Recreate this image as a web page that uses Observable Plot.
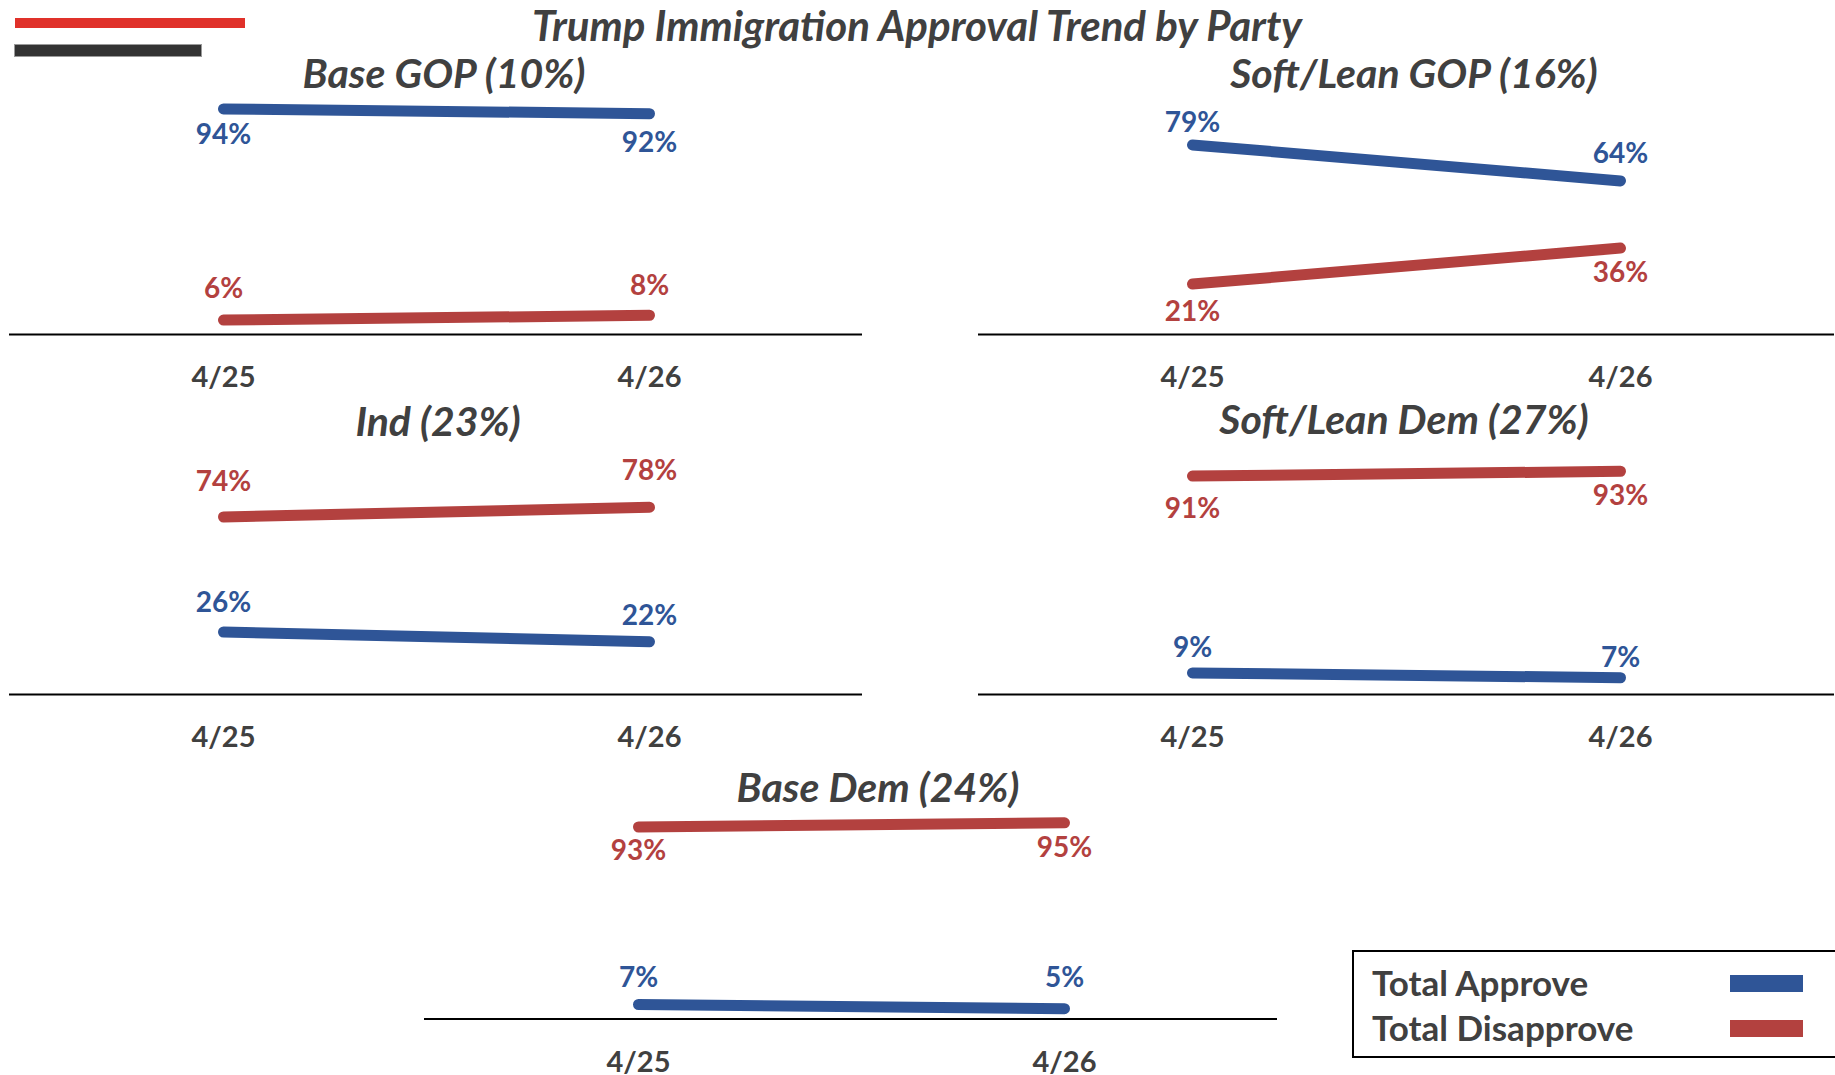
<!DOCTYPE html>
<html>
<head>
<meta charset="utf-8">
<script src="https://cdn.jsdelivr.net/npm/d3@7"></script>
<script src="https://cdn.jsdelivr.net/npm/@observablehq/plot@0.6"></script>
<style>
  html, body { margin: 0; padding: 0; background: #fff; }
  body { width: 1835px; height: 1075px; position: relative; overflow: hidden; font-family: Lato, "Open Sans", sans-serif; }
  .abs { position: absolute; }
  .ttl { font-weight: 700; font-style: italic; color: #404040; white-space: nowrap; line-height: 1; transform: translate(-50%, -50%); }
  .leg { font-weight: 700; color: #404040; white-space: nowrap; line-height: 1; transform: translate(0, -50%); font-size: 35px; }
  .panel svg { overflow: visible; }
</style>
</head>
<body>
<script>
// ---------------- data ----------------
const dates = ["4/25", "4/26"];
const groups = ["Base GOP (10%)", "Soft/Lean GOP (16%)", "Ind (23%)", "Soft/Lean Dem (27%)", "Base Dem (24%)"];
const approve    = [[94, 92], [79, 64], [26, 22], [9, 7], [7, 5]];
const disapprove = [[6, 8],   [21, 36], [74, 78], [91, 93], [93, 95]];
const seriesNames = ["Total Approve", "Total Disapprove"];
const mainTitle = "Trump Immigration Approval Trend by Party";

// ---------------- styles / layout ----------------
const colors = ["#2F5597", "#B3413F"];
// label offsets in px (negative = above the line), per panel: [approve pts], [disapprove pts]
const labelDy = [
  [[26, 29],   [-31, -29]],
  [[-22, -27], [28, 25]],
  [[-29, -26], [-35, -36]],
  [[-25, -20], [33, 25]],
  [[-27, -31], [24, 25]]
];
const panels = [
  {left: 9,   width: 853, axisY: 334,  plotH: 240,   titleX: 444,  titleY: 72.5},
  {left: 978, width: 856, axisY: 334,  plotH: 240,   titleX: 1414, titleY: 72.5},
  {left: 9,   width: 853, axisY: 694,  plotH: 240,   titleX: 438,  titleY: 420.5},
  {left: 978, width: 856, axisY: 694,  plotH: 240,   titleX: 1404, titleY: 418.5},
  {left: 424, width: 853, axisY: 1018, plotH: 206.5, titleX: 878,  titleY: 786.5}
];
const MT = 45, MB = 56;

function addDiv(cls, css, text) {
  const d = document.createElement("div");
  d.className = cls;
  Object.assign(d.style, css);
  if (text != null) d.textContent = text;
  document.body.appendChild(d);
  return d;
}

// decorative header bars
addDiv("abs", {left: "15px", top: "18px", width: "230px", height: "10px", background: "#E0312A"});
addDiv("abs", {left: "15px", top: "45px", width: "186px", height: "11px", background: "#333333", boxShadow: "0 0 0 1px #9a9a9a"});

// main title
addDiv("abs ttl", {left: "917px", top: "25px", fontSize: "42px"}, mainTitle);

groups.forEach((g, i) => {
  const p = panels[i];
  const data = [];
  dates.forEach((d, j) => {
    data.push({date: d, series: seriesNames[0], value: approve[i][j], dy: labelDy[i][0][j]});
    data.push({date: d, series: seriesNames[1], value: disapprove[i][j], dy: labelDy[i][1][j]});
  });
  const labelMarks = data.map(d =>
    Plot.text([d], {x: "date", y: "value", text: r => r.value + "%", fill: "series", dy: d.dy, fontSize: 28, fontWeight: 700})
  );
  const chart = Plot.plot({
    width: p.width,
    height: MT + p.plotH + MB,
    marginTop: MT, marginBottom: MB, marginLeft: 0, marginRight: 0,
    style: {background: "transparent", fontFamily: "Lato, sans-serif", overflow: "visible"},
    x: {type: "point", domain: dates, padding: 0.5},
    y: {domain: [0, 100], axis: null},
    color: {domain: seriesNames, range: colors},
    marks: [
      Plot.ruleY([0], {stroke: "#000", strokeWidth: 2}),
      Plot.axisX({tickSize: 0, tickPadding: 32, fontSize: 29, fontWeight: 700, fill: "#404040", label: null}),
      Plot.line(data, {x: "date", y: "value", z: "series", stroke: "series", strokeWidth: 11, strokeLinecap: "round", strokeLinejoin: "round"}),
      ...labelMarks
    ]
  });
  const wrap = addDiv("abs panel", {left: p.left + "px", top: (p.axisY - p.plotH - MT) + "px"});
  wrap.appendChild(chart);
  addDiv("abs ttl", {left: p.titleX + "px", top: (p.titleY - 1) + "px", fontSize: "41px"}, g);
});

// legend
addDiv("abs", {left: "1352px", top: "950px", width: "500px", height: "108px", border: "2px solid #000", boxSizing: "border-box", borderRight: "none"});
seriesNames.forEach((s, k) => {
  const cy = [983, 1028][k];
  addDiv("abs leg", {left: "1372px", top: (cy - 1) + "px"}, s);
  addDiv("abs", {left: "1730px", top: (cy - 8.5) + "px", width: "73px", height: "17px", background: colors[k]});
});
</script>
</body>
</html>
